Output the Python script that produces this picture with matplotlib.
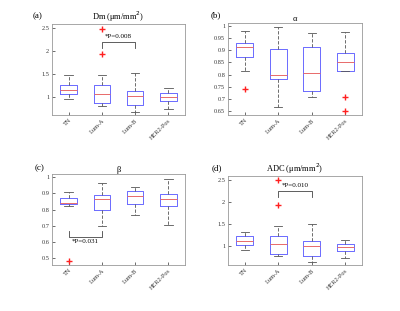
import matplotlib.pyplot as plt
import numpy as np

plt.rcParams['font.family'] = ['Liberation Serif', 'DejaVu Serif']

groups = ['TN', 'Lum-A', 'Lum-B', 'HER2-Pos']

# per-group box stats: whislo, q1, med, q3, whishi
dm_stats = [[0.96, 1.06, 1.16, 1.27, 1.48],
            [0.81, 0.87, 1.07, 1.27, 1.48],
            [0.68, 0.82, 1.02, 1.13, 1.53],
            [0.73, 0.92, 1.01, 1.08, 1.19]]
dm_fliers = [[], [1.93, 2.48], [], []]

alpha_stats = [[0.813, 0.874, 0.915, 0.929, 0.981],
               [0.665, 0.780, 0.800, 0.907, 0.997],
               [0.709, 0.732, 0.806, 0.915, 0.970],
               [0.815, 0.815, 0.852, 0.887, 0.977]]
alpha_fliers = [[0.739], [], [], [0.706, 0.650]]

beta_stats = [[0.820, 0.832, 0.842, 0.873, 0.910],
              [0.702, 0.800, 0.867, 0.891, 0.965],
              [0.766, 0.832, 0.885, 0.914, 0.939],
              [0.706, 0.820, 0.863, 0.893, 0.990]]
beta_fliers = [[0.482], [], [], []]

adc_stats = [[0.92, 1.02, 1.106, 1.235, 1.33],
             [0.765, 0.83, 1.04, 1.22, 1.455],
             [0.64, 0.77, 0.99, 1.12, 1.49],
             [0.74, 0.88, 0.97, 1.05, 1.144]]
adc_fliers = [[], [1.94, 2.5], [], []]

panels = [
    ('(a)', 'Dm (μm/mm$^2$)', dm_stats, dm_fliers, (0.61, 2.59), [1, 1.5, 2, 2.5],
     (2, 3, 2.19, 2.06, '*P=0.008', 'above')),
    ('(b)', 'α', alpha_stats, alpha_fliers, (0.634, 1.012),
     [0.65, 0.7, 0.75, 0.8, 0.85, 0.9, 0.95, 1], None),
    ('(c)', 'β', beta_stats, beta_fliers, (0.46, 1.018), [0.5, 0.6, 0.7, 0.8, 0.9, 1],
     (1, 2, 0.633, 0.666, '*P=0.031', 'below')),
    ('(d)', 'ADC (μm/mm$^2$)', adc_stats, adc_fliers, (0.57, 2.59), [1, 1.5, 2, 2.5],
     (2, 3, 2.25, 2.11, '*P=0.010', 'above')),
]

# axes rectangles in pixels: left, top, right, bottom
rects = [(52, 24, 185, 115), (228, 23, 362, 115), (52, 174, 185, 265), (228, 176, 362, 265)]
label_xy = [(33, 16), (211, 15), (35, 168), (212, 168)]

W, H = 400, 311
fig = plt.figure(figsize=(4, 3.11), dpi=100)

for (lab, title, stats, fliers, ylim, yticks, sig), (l, t, r, b), (lx, ly) in zip(panels, rects, label_xy):
    ax = fig.add_axes([l / W, 1 - b / H, (r - l) / W, (b - t) / H])
    bxp = []
    for s in stats:
        bxp.append(dict(whislo=s[0], q1=s[1], med=s[2], q3=s[3], whishi=s[4], fliers=[]))
    ax.bxp(bxp, positions=[1, 2, 3, 4], widths=0.5, showfliers=False,
           boxprops=dict(color='#6a6aff', linewidth=0.7),
           medianprops=dict(color='#e86a6a', linewidth=0.7),
           whiskerprops=dict(color='#555555', linewidth=0.6, linestyle=(0, (4, 2))),
           capprops=dict(color='#555555', linewidth=0.6))
    # outliers
    for i, f in enumerate(fliers):
        if f:
            ax.plot([i + 1] * len(f), f, linestyle='none', marker='+', color='#ff2020',
                    markersize=4, markeredgewidth=1.0, zorder=5)
    ax.set_xlim(0.5, 4.5)
    ax.set_ylim(*ylim)
    ax.set_yticks(yticks)
    ax.set_yticklabels([f'{v:g}' for v in yticks])
    ax.set_xticks([1, 2, 3, 4])
    ax.set_xticklabels(groups, rotation=45, ha='right', rotation_mode='anchor')
    ax.tick_params(direction='in', length=2, width=0.5, labelsize=4.5, colors='#333333', pad=2)
    for sp in ax.spines.values():
        sp.set_color('#999999')
        sp.set_linewidth(0.6)
    ax.set_title(title, fontsize=6, pad=1.5)
    fig.text(lx / W, 1 - ly / H, lab, fontsize=6.5, va='center')
    if sig is not None:
        x1, x2, ybar, yleg, txt, pos = sig
        ax.plot([x1, x1, x2, x2], [yleg, ybar, ybar, yleg], color='#444444', lw=0.6)
        dy = (ylim[1] - ylim[0]) * 0.07
        if pos == 'above':
            ax.text((x1 + x2) / 2, ybar + dy * 0.55, txt, ha='center', va='bottom', fontsize=5)
        else:
            ax.text((x1 + x2) / 2, ybar - dy * 0.35, txt, ha='center', va='top', fontsize=5)

fig.savefig('out.png', dpi=100)
